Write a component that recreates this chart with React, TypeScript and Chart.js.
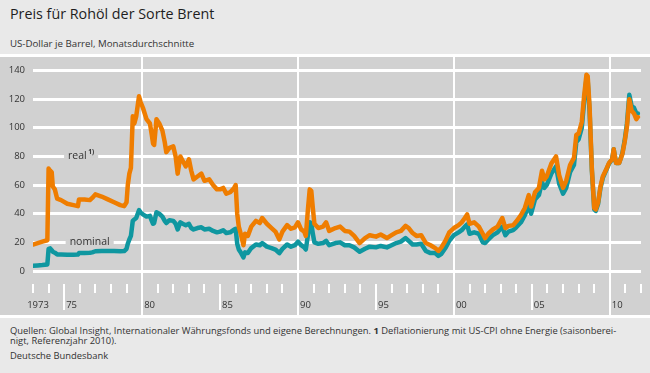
import React, { useEffect, useRef } from "react";
import { Chart, registerables } from "chart.js";

Chart.register(...registerables);

// ---- data (decimal years, US-Dollar per barrel, monthly averages) ----
const dates = [
  1973.0, 1973.3, 1973.6, 1973.92, 1974.0, 1974.1, 1974.2, 1974.27, 1974.4, 1974.55,
  1974.8, 1975.2, 1975.6, 1975.88, 1975.95, 1976.3, 1976.65, 1976.8, 1977.0, 1977.4,
  1977.8, 1978.2, 1978.6, 1978.85, 1979.0, 1979.08, 1979.18, 1979.28, 1979.4, 1979.5,
  1979.62, 1979.8, 1979.9, 1980.05, 1980.28, 1980.5, 1980.62, 1980.7, 1980.77, 1980.92,
  1981.1, 1981.3, 1981.45, 1981.55, 1981.75, 1982.0, 1982.15, 1982.28, 1982.45, 1982.6,
  1982.8, 1983.0, 1983.15, 1983.3, 1983.55, 1983.8, 1984.0, 1984.3, 1984.55, 1984.8,
  1985.0, 1985.2, 1985.4, 1985.65, 1985.9, 1986.0, 1986.1, 1986.2, 1986.35, 1986.5,
  1986.6, 1986.78, 1987.0, 1987.3, 1987.55, 1987.7, 1988.0, 1988.3, 1988.55, 1988.8,
  1989.0, 1989.3, 1989.55, 1989.8, 1990.0, 1990.2, 1990.4, 1990.5, 1990.65, 1990.75,
  1990.85, 1990.95, 1991.05, 1991.3, 1991.6, 1991.8, 1992.0, 1992.4, 1992.7, 1993.0,
  1993.3, 1993.6, 1993.95, 1994.3, 1994.6, 1995.0, 1995.3, 1995.7, 1996.0, 1996.3,
  1996.6, 1996.9, 1997.1, 1997.35, 1997.6, 1997.9, 1998.2, 1998.5, 1998.8, 1999.0,
  1999.2, 1999.45, 1999.7, 2000.0, 2000.3, 2000.5, 2000.7, 2000.85, 2001.0, 2001.3,
  2001.6, 2001.85, 2002.0, 2002.2, 2002.5, 2002.8, 2003.1, 2003.3, 2003.5, 2003.8,
  2004.0, 2004.3, 2004.55, 2004.8, 2004.95, 2005.2, 2005.45, 2005.65, 2005.8, 2005.95,
  2006.25, 2006.55, 2006.75, 2007.0, 2007.2, 2007.45, 2007.7, 2007.85, 2008.0, 2008.2,
  2008.35, 2008.5, 2008.58, 2008.7, 2008.85, 2009.0, 2009.1, 2009.25, 2009.4, 2009.55,
  2009.75, 2009.95, 2010.15, 2010.25, 2010.4, 2010.6, 2010.8, 2010.95, 2011.1, 2011.25,
  2011.4, 2011.55, 2011.7, 2011.8,
];

const nominal = [
  3.6, 3.9, 4.2, 4.6, 15.5, 15.8, 14.5, 13.5, 12.8, 11.6,
  11.5, 11.3, 11.4, 11.5, 12.5, 12.5, 12.7, 13.0, 13.8, 14.0,
  14.0, 13.9, 13.8, 13.9, 15.5, 19, 22, 24.5, 35, 36,
  37, 42.5, 41, 39.5, 38, 38.5, 35, 33, 33.5, 41,
  40, 38, 35, 33.5, 35.5, 35, 33, 29, 34, 33,
  32, 33, 30, 29, 30, 30.5, 29, 29.5, 28, 27,
  27.5, 28.5, 26.5, 27, 29, 29.5, 19, 15, 12.5, 9.5,
  13, 12.5, 16, 18.5, 18, 19.5, 17, 16, 15, 12.5,
  15.5, 18.5, 17, 18, 20.5, 18, 16.5, 15, 26, 34,
  33.5, 26, 20, 19, 19.5, 21, 18, 19.5, 20, 18,
  18, 16.5, 13.5, 15.5, 17, 16.5, 17.5, 16.5, 18, 19.5,
  20.5, 23, 21, 18.5, 18.5, 19, 14, 12.5, 12.5, 10.5,
  12, 16, 21, 25, 27, 28.5, 31, 32.5, 26, 27,
  26, 20, 19.5, 22, 25, 27, 31, 25, 27.5, 28.5,
  30.5, 34, 39, 46, 40, 50, 53, 62, 58, 60,
  68, 73, 61, 54, 58, 69, 74, 90, 92, 100,
  118, 134, 133, 112, 70, 43, 42, 47, 58, 65,
  70, 75, 78, 85, 75.5, 75.5, 82, 91, 103, 123,
  115, 114, 110, 110,
];

const real = [
  18.5, 19.5, 20.5, 21.5, 71.5, 70, 69, 59, 57, 50.5,
  49.5, 47, 46, 45.3, 50, 50, 49.5, 51, 53.5, 52,
  50, 48, 46, 45.3, 48, 60, 68, 72, 108, 103,
  108, 122, 118, 114, 106, 103, 95, 89, 88, 106,
  103, 98, 90, 83, 86, 87, 80, 68, 80, 77,
  73, 78, 70, 64, 66, 68, 63, 64, 60, 57,
  57, 58, 54, 55, 58, 60, 40, 31, 25, 18,
  26, 24.5, 31, 35, 33.5, 37, 33, 30, 27.5, 22,
  27.5, 32, 29.5, 30.5, 34, 29, 27.5, 24.5, 45, 57,
  56, 44, 33, 30, 31, 34, 28, 30, 31, 28,
  27.5, 24.5, 19.5, 23, 25, 24, 25.5, 23, 25, 27,
  28, 31.5, 30, 26.5, 24.5, 25, 19.5, 18, 16, 14,
  16.5, 21, 27, 30, 32, 34, 37, 39.5, 33, 34,
  31, 26, 23, 26, 29, 31, 37, 30, 31.5, 32,
  34.5, 39, 44, 53, 45, 55, 58, 70, 64, 66,
  75, 80, 67, 58, 63, 74, 79, 95, 96, 104,
  122, 137, 136, 115, 71, 44, 43, 48, 59, 66,
  70.5, 75.5, 78, 85, 75.5, 75.5, 81.5, 90, 101, 120,
  112, 110, 106, 107.5,
];

const yTickValues = [0, 20, 40, 60, 80, 100, 120, 140];
const decadeLines = [1980, 1990, 2000, 2010];
const yearTickFirst = 1973;
const yearTickLast = 2012;
const xLabelYears = [1973, 1975, 1980, 1985, 1990, 1995, 2000, 2005, 2010];
const xLabelTexts = ["1973", "75", "80", "85", "90", "95", "00", "05", "10"];

const seriesLabels = [
  { text: "real", sup: "1)", x: 1975.25, y: 80 },
  { text: "nominal", sup: "", x: 1975.35, y: 20 },
];

const ORANGE = "#ef7d00";
const TEAL = "#0f97a0";
const PANEL = "#d1d1d1";
const LIGHT = "#e9e9e9";
const TEXT = "#333333";
const FONT = "'Open Sans', sans-serif";

export default function App() {
  const ref = useRef<HTMLCanvasElement | null>(null);

  useEffect(() => {
    const canvas = ref.current;
    if (!canvas) return;

    const decor = {
      id: "decor",
      beforeDatasetsDraw(chart: any) {
        const ctx = chart.ctx;
        const xs = chart.scales.x;
        const ys = chart.scales.y;
        ctx.save();
        // year ticks
        ctx.strokeStyle = "#ffffff";
        ctx.lineWidth = 2;
        for (let yr = yearTickFirst; yr <= yearTickLast; yr++) {
          if (decadeLines.includes(yr)) continue;
          const px = Math.round(xs.getPixelForValue(yr));
          const long = yr % 5 === 0;
          ctx.beginPath();
          ctx.moveTo(px, 227);
          ctx.lineTo(px, long ? 253 : 236);
          ctx.stroke();
        }
        // year labels
        ctx.fillStyle = TEXT;
        ctx.font = `9.5px ${FONT}`;
        ctx.textBaseline = "middle";
        xLabelYears.forEach((yr, i) => {
          const px = xs.getPixelForValue(yr);
          if (i === 0) {
            ctx.textAlign = "center";
            ctx.fillText(xLabelTexts[i], px + 5, 248);
          } else {
            ctx.textAlign = "left";
            ctx.fillText(xLabelTexts[i], px + 2, 248);
          }
        });
        // series labels
        seriesLabels.forEach((l) => {
          const px = xs.getPixelForValue(l.x);
          const py = ys.getPixelForValue(l.y);
          ctx.font = `10.5px ${FONT}`;
          const w = ctx.measureText(l.text).width;
          ctx.font = `bold 6.5px ${FONT}`;
          const ws = l.sup ? ctx.measureText(l.sup).width + 1.5 : 0;
          ctx.fillStyle = PANEL;
          ctx.fillRect(px - 4, py - 3, w + ws + 8, 6);
          ctx.fillStyle = TEXT;
          ctx.textAlign = "left";
          ctx.textBaseline = "middle";
          ctx.font = `10.5px ${FONT}`;
          ctx.fillText(l.text, px, py);
          if (l.sup) {
            ctx.font = `bold 6.5px ${FONT}`;
            ctx.fillText(l.sup, px + w + 1.5, py - 4);
          }
        });
        ctx.restore();
      },
    };

    const chart = new Chart(canvas, {
      type: "line",
      data: {
        datasets: [
          {
            label: "real",
            data: dates.map((d, i) => ({ x: d, y: real[i] })),
            borderColor: ORANGE,
            borderWidth: 4.5,
            pointRadius: 0,
            tension: 0,
            borderJoinStyle: "round",
            borderCapStyle: "round",
            order: 0,
          },
          {
            label: "nominal",
            data: dates.map((d, i) => ({ x: d, y: nominal[i] })),
            borderColor: TEAL,
            borderWidth: 4.5,
            pointRadius: 0,
            tension: 0,
            borderJoinStyle: "round",
            borderCapStyle: "round",
            order: 1,
          },
        ],
      },
      options: {
        animation: false,
        responsive: false,
        maintainAspectRatio: false,
        layout: { padding: { left: 0, right: 9, top: 0, bottom: 0 } },
        plugins: { legend: { display: false }, tooltip: { enabled: false } },
        scales: {
          x: {
            type: "linear",
            min: 1973,
            max: 2012,
            border: { display: false },
            ticks: { display: false },
            grid: { drawTicks: false, color: "#ffffff", lineWidth: 2 },
            afterBuildTicks: (s: any) => {
              s.ticks = decadeLines.map((v) => ({ value: v }));
            },
            afterFit: (s: any) => {
              s.height = 0;
              s.paddingLeft = 0;
              s.paddingRight = 0;
            },
          },
          y: {
            type: "linear",
            min: -30.72,
            max: 149.43,
            border: { display: false },
            grid: { drawTicks: false, color: "#ffffff", lineWidth: 3 },
            ticks: {
              color: TEXT,
              font: { family: FONT, size: 9.5 },
              padding: 8,
            },
            afterBuildTicks: (s: any) => {
              s.ticks = yTickValues.map((v) => ({ value: v }));
            },
            afterFit: (s: any) => {
              s.width = 33;
              s.paddingTop = 0;
              s.paddingBottom = 0;
            },
          },
        },
      } as any,
      plugins: [decor],
    });
    return () => chart.destroy();
  }, []);

  return (
    <div
      style={{
        position: "absolute",
        left: 0,
        top: 0,
        width: 650,
        height: 373,
        background: LIGHT,
        fontFamily: FONT,
        color: TEXT,
        overflow: "hidden",
      }}
    >
      <div
        style={{
          position: "absolute",
          left: 10,
          top: 7,
          fontSize: 14.3,
          lineHeight: "14px",
          color: "#1e1e1e",
          whiteSpace: "nowrap",
        }}
      >
        Preis für Rohöl der Sorte Brent
      </div>
      <div
        style={{
          position: "absolute",
          left: 10,
          top: 38.6,
          fontSize: 9.7,
          lineHeight: "9.5px",
          whiteSpace: "nowrap",
        }}
      >
        US-Dollar je Barrel, Monatsdurchschnitte
      </div>
      <div style={{ position: "absolute", left: 0, top: 54, width: 650, height: 3, background: "#ffffff" }} />
      <canvas
        ref={ref}
        width={650}
        height={258}
        style={{ position: "absolute", left: 0, top: 57, width: 650, height: 258, background: PANEL }}
      />
      <div style={{ position: "absolute", left: 0, top: 315, width: 650, height: 2.5, background: "#ffffff" }} />
      <div
        style={{
          position: "absolute",
          left: 10,
          top: 325.5,
          fontSize: 9.4,
          lineHeight: "10.7px",
          whiteSpace: "nowrap",
        }}
      >
        <div>
          Quellen: Global Insight, Internationaler Währungsfonds und eigene Berechnungen. <b>1</b> Deflationierung mit
          US-CPI ohne Energie (saisonberei-
        </div>
        <div>nigt, Referenzjahr 2010).</div>
        <div style={{ marginTop: 4.5 }}>Deutsche Bundesbank</div>
      </div>
    </div>
  );
}
